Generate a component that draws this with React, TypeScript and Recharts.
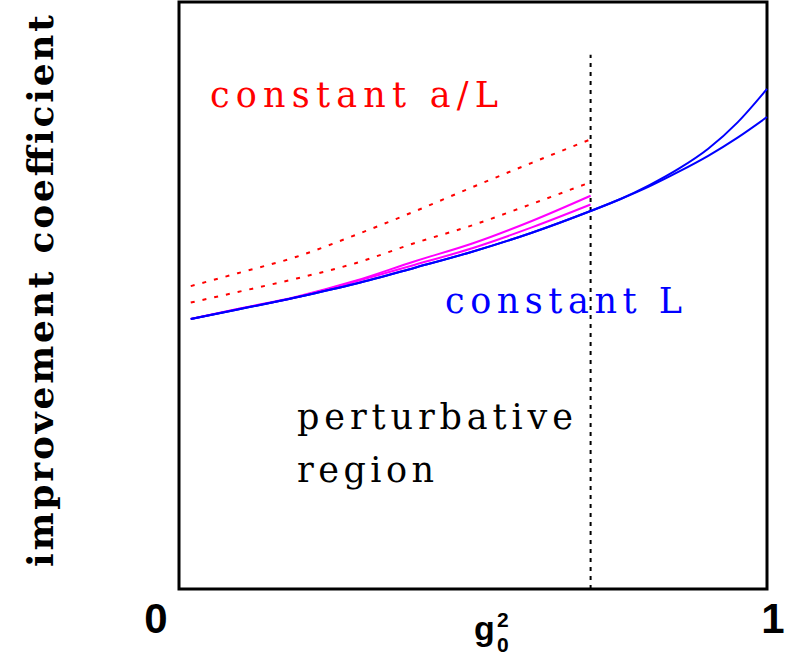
import React from 'react';
import {
  LineChart,
  Line,
  XAxis,
  YAxis,
  ReferenceArea,
  ReferenceLine,
  Customized,
} from 'recharts';

// g0^2 grid (0..1 across the frame)
const gridT = [0.02, 0.1, 0.2, 0.3, 0.4, 0.5, 0.6, 0.7, 0.75, 0.8, 0.85, 0.9, 0.95, 1.0];

// constant L (blue), two curves that split above the perturbative region
const blueA = [0.46, 0.476, 0.497, 0.52, 0.547, 0.575, 0.607, 0.644, 0.664, 0.686, 0.711, 0.738, 0.769, 0.804];
const blueB = [0.46, 0.476, 0.497, 0.52, 0.547, 0.575, 0.607, 0.644, 0.664, 0.688, 0.716, 0.75, 0.795, 0.852];

// magenta curves, perturbative region only
const magentaA = [0.46, 0.477, 0.498, 0.525, 0.558, 0.589, 0.627, 0.67];
const magentaB = [0.46, 0.477, 0.497, 0.524, 0.552, 0.581, 0.616, 0.655];

// constant a/L (red dotted)
const redA = [0.516, 0.538, 0.566, 0.603, 0.643, 0.685, 0.726, 0.766];
const redB = [0.488, 0.506, 0.529, 0.555, 0.589, 0.62, 0.656, 0.693];

const regionEdge = 0.7;
const xTickLabels = ['0', '1'];

const data = gridT.map((t, i) => ({
  t,
  blueA: blueA[i],
  blueB: blueB[i],
  magentaA: magentaA[i] ?? null,
  magentaB: magentaB[i] ?? null,
  redA: redA[i] ?? null,
  redB: redB[i] ?? null,
}));

const serif = '"DejaVu Serif", "Liberation Serif", serif';
const sans = '"Liberation Sans", Arial, sans-serif';

function Annotations() {
  return (
    <g>
      <text x={210} y={107} fill="#ff0000" fontFamily={serif} fontSize={35} textLength={288} lengthAdjust="spacing">
        constant a/L
      </text>
      <text x={445} y={313} fill="#0000ff" fontFamily={serif} fontSize={35} textLength={237} lengthAdjust="spacing">
        constant L
      </text>
      <text x={297} y={429} fill="#000" fontFamily={serif} fontSize={35} textLength={276} lengthAdjust="spacing">
        perturbative
      </text>
      <text x={297} y={482} fill="#000" fontFamily={serif} fontSize={35} textLength={137} lengthAdjust="spacing">
        region
      </text>
      <text
        transform="translate(53,291) rotate(-90)"
        textAnchor="middle"
        fill="#000"
        fontFamily={serif}
        fontWeight="bold"
        fontSize={36}
        textLength={552}
        lengthAdjust="spacing"
      >
        improvement coefficient
      </text>
      <text x={156} y={633} textAnchor="middle" fontFamily={sans} fontWeight="bold" fontSize={42}>
        {xTickLabels[0]}
      </text>
      <text x={773} y={633} textAnchor="middle" fontFamily={sans} fontWeight="bold" fontSize={42}>
        {xTickLabels[1]}
      </text>
      <text x={474} y={640} fontFamily={sans} fontWeight="bold" fontSize={34}>
        g
      </text>
      <text x={497} y={627} fontFamily={sans} fontWeight="bold" fontSize={21}>
        2
      </text>
      <text x={497} y={652} fontFamily={sans} fontWeight="bold" fontSize={21}>
        0
      </text>
    </g>
  );
}

export default function App() {
  return (
    <div style={{ position: 'absolute', left: 0, top: 0, width: 796, height: 664, background: '#fff' }}>
      <LineChart
        width={796}
        height={664}
        data={data}
        margin={{ top: 2, right: 29, bottom: 75, left: 179 }}
      >
        <XAxis dataKey="t" type="number" domain={[0, 1]} hide />
        <YAxis type="number" domain={[0, 1]} hide />
        <ReferenceLine
          segment={[
            { x: regionEdge, y: 0 },
            { x: regionEdge, y: 0.91 },
          ]}
          stroke="#000"
          strokeWidth={2}
          strokeDasharray="4 5"
        />
        <Line type="monotone" dataKey="redA" stroke="#ff0000" strokeWidth={2} strokeDasharray="4 8" dot={false} isAnimationActive={false} />
        <Line type="monotone" dataKey="redB" stroke="#ff0000" strokeWidth={2} strokeDasharray="4 8" dot={false} isAnimationActive={false} />
        <Line type="monotone" dataKey="magentaA" stroke="#ff00ff" strokeWidth={2} dot={false} isAnimationActive={false} />
        <Line type="monotone" dataKey="magentaB" stroke="#ff00ff" strokeWidth={2} dot={false} isAnimationActive={false} />
        <Line type="monotone" dataKey="blueA" stroke="#0000ff" strokeWidth={2} dot={false} isAnimationActive={false} />
        <Line type="monotone" dataKey="blueB" stroke="#0000ff" strokeWidth={2} dot={false} isAnimationActive={false} />
        <ReferenceArea x1={0} x2={1} y1={0} y2={1} fill="none" fillOpacity={0} stroke="#000" strokeWidth={3} />
        <Customized component={Annotations} />
      </LineChart>
    </div>
  );
}
